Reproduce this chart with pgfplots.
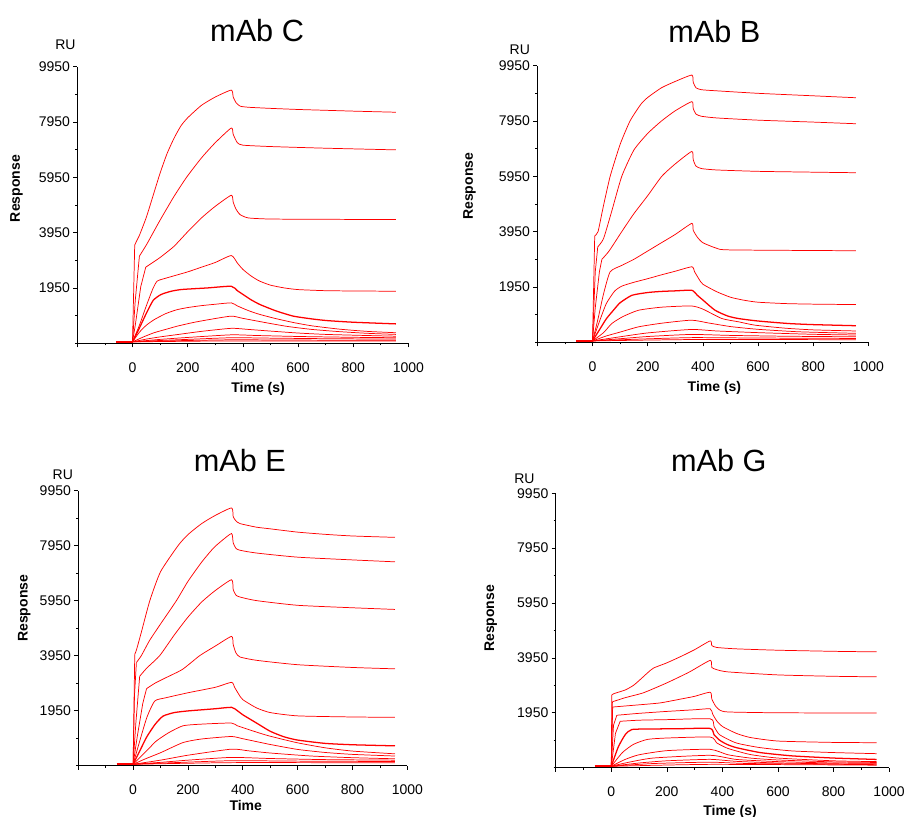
\documentclass[border=0pt]{standalone}
\usepackage{fontspec}
\setmainfont{Liberation Sans}
\usepackage{pgfplots}
\pgfplotsset{compat=1.18}
\pgfplotsset{
  spr/.style={scale only axis, anchor=south west, clip=false,
    xmin=-200, xmax=1000, ymin=-50, ymax=9950,
    axis x line=bottom, axis y line=left, axis line style={-, line width=0.6pt},
    xtick={-200,0,200,400,600,800,1000}, xticklabels={,0,200,400,600,800,1000},
    minor xtick={-100,100,300,500,700,900},
    ytick={1950,3950,5950,7950,9950}, yticklabels={1950,3950,5950,7950,9950},
    minor ytick={-50,950,2950,4950,6950,8950},
    tick align=outside, major tick length=3pt, minor tick length=1.6pt,
    tick style={black, line width=0.5pt},
    ticklabel style={font=\fontsize{10.5}{12}\selectfont},
    xticklabel shift=8pt, yticklabel shift=-1pt},
  sh/.style={red, line width=0.55pt, sharp plot},
  sc/.style={red, line width=0.55pt, smooth, tension=0.35},
  hv/.style={red, line width=0.95pt, smooth, tension=0.35},
  base/.style={red, line width=1.6pt},
}
\newcommand{\ttl}{\fontsize{23}{26}\selectfont}
\newcommand{\lbl}{\fontsize{10.5}{12}\selectfont}
\begin{document}
\begin{tikzpicture}
\useasboundingbox (0,0) rectangle (681pt,612.75pt);

% mAb C
\begin{axis}[spr, at={(58pt,355.3pt)}, width=248.3pt, height=207.5pt]
\addplot[base] coordinates {(-60,0)(0,0)};
\addplot[sh] coordinates {(0,0)(8,3500)};
\addplot[sc] coordinates {(8,3500)(15,3650)(25,3850)(50,4500)(75,5300)(100,6100)(125,6800)(150,7350)(175,7800)(200,8100)(250,8550)(300,8850)(358,9100)(365,8850)(375,8650)(390,8520)(420,8480)(500,8440)(600,8400)(700,8370)(800,8340)(955,8300)};
\addplot[sh] coordinates {(0,0)(10,1500)(25,3100)};
\addplot[sc] coordinates {(25,3100)(50,3500)(75,3950)(100,4400)(150,5250)(196,5950)(250,6650)(300,7200)(358,7730)(365,7500)(380,7200)(400,7110)(500,7060)(700,7000)(955,6940)};
\addplot[sh] coordinates {(0,0)(10,600)(30,2000)(48,2700)};
\addplot[sc] coordinates {(48,2700)(75,2880)(100,3050)(150,3450)(200,3980)(250,4480)(300,4900)(358,5300)(365,5050)(375,4800)(390,4600)(420,4480)(500,4440)(700,4430)(955,4420)};
\addplot[sc] coordinates {(0,0)(25,600)(50,1300)(75,1950)(90,2200)(120,2300)(200,2530)(250,2700)(300,2870)(358,3120)(380,2850)(400,2620)(430,2380)(460,2200)(500,2050)(550,1950)(600,1890)(700,1850)(800,1840)(955,1830)};
\addplot[hv] coordinates {(0,0)(25,500)(51,1050)(75,1500)(103,1710)(140,1830)(175,1890)(220,1920)(272,1950)(358,2010)(380,1850)(401,1710)(430,1520)(462,1350)(520,1120)(583,930)(650,830)(704,770)(800,710)(955,650)};
\addplot[sc] coordinates {(0,0)(25,350)(50,600)(78,800)(120,1020)(160,1160)(200,1240)(250,1310)(300,1360)(358,1410)(380,1300)(420,1130)(462,990)(520,840)(583,700)(650,580)(750,460)(850,380)(955,330)};
\addplot[sc] coordinates {(0,0)(40,180)(78,330)(120,450)(163,570)(220,700)(280,810)(358,930)(400,850)(480,700)(560,560)(650,450)(750,370)(850,310)(955,270)};
\addplot[sc] coordinates {(0,0)(50,100)(100,180)(167,270)(250,380)(358,490)(420,450)(500,390)(600,320)(700,270)(850,230)(955,205)};
\addplot[sc] coordinates {(0,0)(100,90)(200,160)(358,255)(450,230)(600,195)(800,165)(955,150)};
\addplot[sc] coordinates {(0,0)(100,50)(200,90)(358,150)(500,135)(700,115)(955,100)};
\addplot[sc] coordinates {(0,0)(150,40)(358,75)(600,65)(955,55)};
\addplot[sc] coordinates {(0,0)(358,35)(955,30)};
\node[font=\ttl] at (rel axis cs:0.543,1.129) {mAb C};
\node[font=\lbl] at (rel axis cs:-0.036,1.080) {RU};
\node[font=\lbl\bfseries, rotate=90] at (rel axis cs:-0.184,0.559) {Response};
\node[font=\lbl\bfseries] at (rel axis cs:0.546,-0.164) {Time (s)};
\end{axis}

% mAb B
\begin{axis}[spr, at={(403pt,356pt)}, width=248.3pt, height=207.5pt]
\addplot[base] coordinates {(-60,0)(0,0)};
\addplot[sh] coordinates {(0,0)(8,3800)};
\addplot[sc] coordinates {(8,3800)(20,3950)(40,4900)(64,5950)(100,7100)(136,7950)(175,8550)(200,8800)(250,9150)(300,9380)(360,9610)(365,9350)(375,9150)(395,9080)(450,9040)(600,8950)(800,8860)(955,8790)};
\addplot[sh] coordinates {(0,0)(10,2500)(19,3400)};
\addplot[sc] coordinates {(19,3400)(40,3700)(70,4700)(106,5950)(150,6900)(200,7500)(250,7950)(300,8320)(360,8650)(365,8400)(375,8200)(395,8120)(450,8060)(600,7980)(800,7910)(955,7850)};
\addplot[sh] coordinates {(0,0)(10,1200)(25,2500)(34,2950)};
\addplot[sc] coordinates {(34,2950)(60,3250)(106,3950)(150,4600)(200,5250)(251,5950)(300,6400)(360,6850)(365,6550)(375,6320)(395,6230)(450,6180)(600,6130)(800,6100)(955,6080)};
\addplot[sc] coordinates {(0,0)(20,800)(40,1700)(64,2500)(106,2730)(150,2950)(200,3250)(250,3550)(300,3850)(360,4250)(365,4000)(380,3750)(400,3550)(450,3350)(500,3290)(955,3260)};
\addplot[sc] coordinates {(0,0)(25,700)(50,1350)(80,1800)(106,1980)(150,2120)(200,2250)(250,2390)(300,2520)(360,2680)(370,2500)(385,2250)(400,2050)(450,1780)(500,1580)(550,1470)(600,1400)(700,1350)(800,1330)(955,1315)};
\addplot[hv] coordinates {(0,0)(25,400)(50,800)(75,1100)(100,1380)(143,1650)(200,1750)(250,1790)(300,1810)(360,1830)(380,1650)(400,1480)(444,1110)(490,900)(529,810)(600,720)(710,630)(800,590)(955,550)};
\addplot[sc] coordinates {(0,0)(40,300)(70,630)(110,880)(167,1110)(250,1220)(358,1265)(400,1150)(469,810)(530,690)(589,570)(700,460)(800,400)(955,360)};
\addplot[sc] coordinates {(0,0)(50,180)(100,320)(167,510)(250,640)(358,750)(420,650)(500,520)(600,420)(750,330)(955,275)};
\addplot[sc] coordinates {(0,0)(100,150)(200,290)(358,415)(450,360)(600,300)(800,240)(955,215)};
\addplot[sc] coordinates {(0,0)(100,80)(200,160)(358,235)(500,200)(700,170)(955,150)};
\addplot[sc] coordinates {(0,0)(150,60)(358,120)(600,105)(955,90)};
\addplot[sc] coordinates {(0,0)(358,50)(955,45)};
\node[font=\ttl] at (rel axis cs:0.535,1.123) {mAb B};
\node[font=\lbl] at (rel axis cs:-0.053,1.056) {RU};
\node[font=\lbl\bfseries, rotate=90] at (rel axis cs:-0.205,0.564) {Response};
\node[font=\lbl\bfseries] at (rel axis cs:0.535,-0.163) {Time (s)};
\end{axis}

% mAb E
\begin{axis}[spr, at={(58.7pt,38.5pt)}, width=246.8pt, height=206.3pt]
\addplot[base] coordinates {(-60,0)(0,0)};
\addplot[sh] coordinates {(0,0)(6,4000)};
\addplot[sc] coordinates {(6,4000)(12,4150)(30,4800)(61,5950)(100,7000)(164,7950)(200,8350)(250,8750)(300,9050)(359,9320)(365,9000)(375,8850)(390,8750)(450,8620)(500,8560)(600,8440)(700,8360)(800,8300)(955,8250)};
\addplot[sh] coordinates {(0,0)(5,2500)(12,3700)};
\addplot[sc] coordinates {(12,3700)(30,3950)(60,4500)(100,5100)(158,5950)(200,6650)(250,7350)(292,7850)(320,8100)(359,8390)(365,8050)(375,7850)(390,7780)(450,7680)(600,7530)(800,7430)(955,7360)};
\addplot[sh] coordinates {(0,0)(10,1500)(24,3200)};
\addplot[sc] coordinates {(24,3200)(50,3500)(97,3950)(150,4700)(200,5350)(250,5900)(300,6320)(359,6710)(365,6350)(375,6150)(390,6080)(450,5950)(600,5780)(800,5690)(955,5630)};
\addplot[sh] coordinates {(0,0)(15,1000)(35,2200)(49,2750)};
\addplot[sc] coordinates {(49,2750)(80,2950)(120,3150)(180,3450)(243,3950)(300,4300)(359,4650)(365,4350)(375,4050)(390,3900)(450,3780)(600,3620)(800,3520)(955,3470)};
\addplot[sc] coordinates {(0,0)(20,700)(50,1700)(79,2300)(120,2420)(200,2600)(300,2800)(359,2980)(370,2800)(385,2550)(400,2350)(450,2050)(500,1880)(600,1760)(800,1720)(955,1707)};
\addplot[hv] coordinates {(0,0)(25,500)(50,1000)(80,1450)(109,1750)(150,1880)(200,1940)(250,1980)(300,2020)(359,2070)(380,1950)(400,1800)(450,1500)(500,1200)(550,1000)(600,880)(700,760)(800,710)(955,670)};
\addplot[sc] coordinates {(0,0)(30,300)(60,600)(85,850)(130,1150)(182,1400)(250,1460)(358,1500)(380,1400)(450,1170)(500,1020)(600,780)(700,600)(800,480)(955,380)};
\addplot[sc] coordinates {(0,0)(50,220)(100,420)(182,790)(250,920)(358,1010)(400,930)(500,720)(600,540)(700,430)(800,360)(955,300)};
\addplot[sc] coordinates {(0,0)(100,150)(200,330)(358,550)(420,490)(500,410)(650,300)(800,240)(955,200)};
\addplot[sc] coordinates {(0,0)(100,70)(200,150)(358,250)(500,210)(700,170)(955,150)};
\addplot[sc] coordinates {(0,0)(150,60)(358,130)(600,115)(955,100)};
\addplot[sc] coordinates {(0,0)(358,60)(955,55)};
\node[font=\ttl] at (rel axis cs:0.491,1.111) {mAb E};
\node[font=\lbl] at (rel axis cs:-0.047,1.058) {RU};
\node[font=\lbl\bfseries, rotate=90] at (rel axis cs:-0.164,0.572) {Response};
\node[font=\lbl\bfseries] at (rel axis cs:0.509,-0.146) {Time};
\end{axis}

% mAb G
\begin{axis}[spr, at={(416.8pt,37pt)}, width=250pt, height=205.8pt]
\addplot[base] coordinates {(-60,0)(0,0)};
\addplot[sh] coordinates {(0,0)(2,2600)};
\addplot[sc] coordinates {(2,2600)(10,2650)(50,2780)(80,2950)(104,3160)(130,3400)(152,3580)(200,3770)(250,4000)(300,4250)(356,4570)(362,4400)(380,4330)(450,4280)(600,4230)(800,4190)(955,4170)};
\addplot[sh] coordinates {(0,0)(4,2350)};
\addplot[sc] coordinates {(4,2350)(50,2500)(116,2680)(200,3040)(280,3430)(356,3860)(362,3600)(380,3520)(420,3440)(600,3330)(800,3280)(955,3260)};
\addplot[sh] coordinates {(0,0)(5,2160)};
\addplot[sc] coordinates {(5,2160)(100,2240)(176,2310)(250,2450)(300,2550)(356,2700)(362,2450)(375,2200)(390,2050)(420,1980)(600,1950)(955,1940)};
\addplot[sh] coordinates {(0,0)(8,1500)(20,1860)};
\addplot[sc] coordinates {(20,1860)(100,1930)(200,2000)(300,2060)(356,2095)(365,1900)(380,1650)(400,1450)(450,1200)(500,1050)(600,920)(800,870)(955,860)};
\addplot[sh] coordinates {(0,0)(15,1200)(32,1640)};
\addplot[sc] coordinates {(32,1640)(100,1680)(200,1700)(356,1730)(370,1450)(390,1150)(450,850)(536,680)(650,560)(800,500)(955,460)};
\addplot[hv] coordinates {(0,0)(25,700)(50,1150)(74,1340)(150,1360)(250,1370)(356,1380)(370,1150)(390,950)(416,800)(450,680)(536,500)(650,380)(800,300)(955,250)};
\addplot[sc] coordinates {(0,0)(40,500)(80,800)(130,980)(200,1030)(356,1065)(380,850)(420,650)(500,430)(600,300)(800,200)(955,170)};
\addplot[sc] coordinates {(0,0)(50,250)(100,420)(200,570)(356,617)(420,420)(500,300)(600,230)(800,160)(955,140)};
\addplot[sc] coordinates {(0,0)(50,120)(150,300)(356,400)(450,250)(600,170)(800,120)(955,110)};
\addplot[sc] coordinates {(0,0)(100,120)(200,200)(356,253)(450,180)(600,120)(800,90)(955,80)};
\addplot[sc] coordinates {(0,0)(150,100)(356,150)(500,100)(955,60)};
\addplot[sc] coordinates {(0,0)(356,70)(955,40)};
\node[font=\ttl] at (rel axis cs:0.489,1.118) {mAb G};
\node[font=\lbl] at (rel axis cs:-0.094,1.053) {RU};
\node[font=\lbl\bfseries, rotate=90] at (rel axis cs:-0.195,0.544) {Response};
\node[font=\lbl\bfseries] at (rel axis cs:0.523,-0.16) {Time (s)};
\end{axis}
\end{tikzpicture}
\end{document}
